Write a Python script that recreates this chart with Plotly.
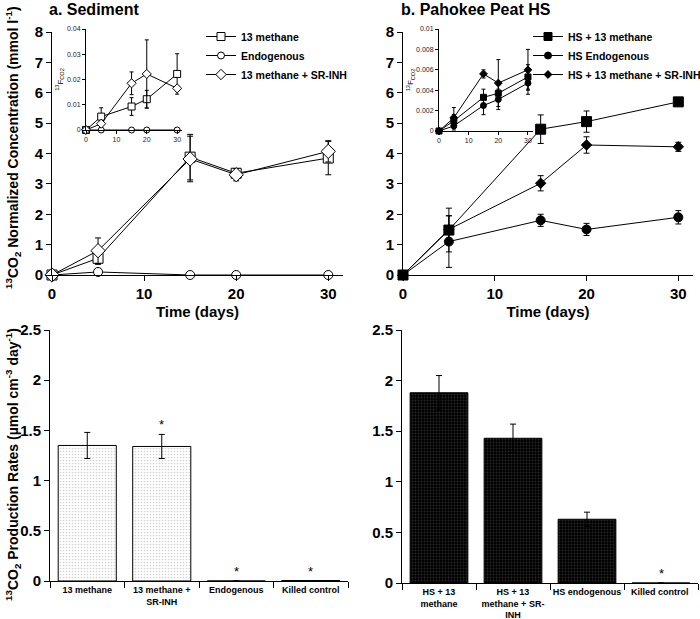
import plotly.graph_objects as go

FONT = "Liberation Sans, Arial, sans-serif"

# ---------------- data ----------------
days = [0, 5, 15, 20, 30]

# Panel a: sediment, main (mmol/l)
a_meth = [0, 0.55, 3.88, 3.35, 3.85]
a_meth_err = [0, 0.2, 0.75, 0.15, 0.55]
a_endo = [0, 0.1, 0, 0, 0]
a_endo_err = [0, 0, 0, 0, 0]
a_inh = [0, 0.8, 3.82, 3.3, 4.07]
a_inh_err = [0, 0.42, 0.75, 0.2, 0.35]

# Panel a inset (13F_CO2)
ai_meth = [0, 0.0053, 0.0093, 0.0122, 0.0222]
ai_meth_err = [0, 0.0035, 0.0035, 0.0035, 0.008]
ai_endo = [0, 0, 0, 0, 0]
ai_inh = [0, 0.0025, 0.0185, 0.0222, 0.0165]
ai_inh_err = [0, 0, 0.0045, 0.0135, 0.001]

# Panel b: Pahokee Peat HS, main
b_meth = [0, 1.48, 4.8, 5.05, 5.7]
b_meth_err = [0, 0.72, 0.47, 0.35, 0.12]
b_endo = [0, 1.1, 1.8, 1.5, 1.9]
b_endo_err = [0, 0.85, 0.2, 0.2, 0.22]
b_inh = [0, 1.5, 3.02, 4.28, 4.22]
b_inh_err = [0, 0.45, 0.25, 0.27, 0.15]

# Panel b inset
bi_meth = [0, 0.001, 0.0033, 0.0037, 0.0053]
bi_meth_err = [0, 0.0006, 0.0008, 0.0008, 0.0012]
bi_endo = [0, 0.0005, 0.0025, 0.0031, 0.0047]
bi_endo_err = [0, 0.0004, 0.0009, 0.001, 0.0011]
bi_inh = [0, 0.0013, 0.0056, 0.0047, 0.006]
bi_inh_err = [0, 0.001, 0.0004, 0.0023, 0.002]

# Bars
a_cats = ["13 methane", "13 methane +<br>SR-INH", "Endogenous", "Killed control"]
a_rates = [1.35, 1.34, 0, 0.005]
a_rates_err = [0.13, 0.12, 0, 0]
a_star = [False, True, True, True]

b_cats = ["HS + 13<br>methane", "HS + 13<br>methane + SR-<br>INH", "HS endogenous", "Killed control "]
b_rates = [1.88, 1.43, 0.63, 0]
b_rates_err = [0.17, 0.14, 0.07, 0]
b_star = [False, False, False, True]

W, H = 700, 619
def fx(px):  # screen px -> paper fraction
    return px / W
def fy(py):
    return 1 - py / H

fig = go.Figure()

def err(vals, w=3):
    return dict(type="data", array=vals, visible=True, color="black", thickness=1, width=w)

def line_trace(x, y, e, name, symbol, fill, size, xa, ya, ew=3):
    return go.Scatter(
        x=x, y=y, name=name, mode="lines+markers",
        line=dict(color="black", width=1),
        marker=dict(symbol=symbol, size=size, color=fill, line=dict(color="black", width=1)),
        error_y=err(e, ew), xaxis=xa, yaxis=ya,
        showlegend=False, cliponaxis=False,
    )

def legend_entry(name, symbol, fill, size, xa, ya, legend):
    return go.Scatter(
        x=[None], y=[None], name=name, mode="lines+markers",
        line=dict(color="black", width=1),
        marker=dict(symbol=symbol, size=size, color=fill, line=dict(color="black", width=1)),
        xaxis=xa, yaxis=ya, legend=legend, showlegend=True,
    )

W_ = "white"
K_ = "black"
# Panel a main
fig.add_trace(line_trace(days, a_meth, a_meth_err, "13 methane", "square", W_, 10, "x", "y"))
fig.add_trace(line_trace(days, a_endo, a_endo_err, "Endogenous", "circle", W_, 9, "x", "y"))
fig.add_trace(line_trace(days, a_inh, a_inh_err, "13 methane + SR-INH", "diamond", W_, 11, "x", "y"))
fig.add_trace(legend_entry("13 methane", "square", W_, 8, "x", "y", "legend"))
fig.add_trace(legend_entry("Endogenous", "circle", W_, 7, "x", "y", "legend"))
fig.add_trace(legend_entry("13 methane + SR-INH", "diamond", W_, 8, "x", "y", "legend"))

# Panel b main
fig.add_trace(line_trace(days, b_meth, b_meth_err, "HS + 13 methane", "square", K_, 10, "x2", "y2"))
fig.add_trace(line_trace(days, b_endo, b_endo_err, "HS Endogenous", "circle", K_, 9, "x2", "y2"))
fig.add_trace(line_trace(days, b_inh, b_inh_err, "HS + 13 methane + SR-INH", "diamond", K_, 8, "x2", "y2"))
fig.add_trace(legend_entry("HS + 13 methane", "square", K_, 8, "x2", "y2", "legend2"))
fig.add_trace(legend_entry("HS Endogenous", "circle", K_, 7, "x2", "y2", "legend2"))
fig.add_trace(legend_entry("HS + 13 methane + SR-INH", "diamond", K_, 6, "x2", "y2", "legend2"))

# Insets
fig.add_trace(line_trace(days, ai_meth, ai_meth_err, "a13", "square", W_, 7, "x3", "y3", 2))
fig.add_trace(line_trace(days, ai_endo, [0]*5, "aE", "circle", W_, 6, "x3", "y3", 2))
fig.add_trace(line_trace(days, ai_inh, ai_inh_err, "aI", "diamond", W_, 7, "x3", "y3", 2))
fig.add_trace(line_trace(days, bi_meth, bi_meth_err, "b13", "square", K_, 6, "x4", "y4", 2))
fig.add_trace(line_trace(days, bi_endo, bi_endo_err, "bE", "circle", K_, 6, "x4", "y4", 2))
fig.add_trace(line_trace(days, bi_inh, bi_inh_err, "bI", "diamond", K_, 6, "x4", "y4", 2))

# Bars
fig.add_trace(go.Bar(
    x=a_cats, y=a_rates, width=0.78, xaxis="x5", yaxis="y5", showlegend=False,
    marker=dict(color="white", line=dict(color="black", width=1),
                pattern=dict(shape=".", fgcolor="#a8a8a8", bgcolor="white", size=3, solidity=0.25)),
    error_y=err(a_rates_err, 3),
))
fig.add_trace(go.Bar(
    x=b_cats, y=b_rates, width=0.78, xaxis="x6", yaxis="y6", showlegend=False,
    marker=dict(color="black", line=dict(color="black", width=1),
                pattern=dict(shape=".", fgcolor="#505050", bgcolor="black", size=3, solidity=0.3)),
    error_y=err(b_rates_err, 3),
))

# asterisks
for cats, rates, errs, stars, xa, ya in [(a_cats, a_rates, a_rates_err, a_star, "x5", "y5"),
                                         (b_cats, b_rates, b_rates_err, b_star, "x6", "y6")]:
    for c, r, e, s in zip(cats, rates, errs, stars):
        if s:
            fig.add_annotation(x=c, y=r + e, xref=xa, yref=ya, text="*", showarrow=False,
                               yanchor="bottom", yshift=0, font=dict(size=13, color="black", family=FONT))

axis_common = dict(showline=True, linecolor="black", linewidth=1, showgrid=False, zeroline=False,
                   ticks="outside", tickcolor="black", ticklen=5, automargin=False,
                   tickfont=dict(size=15, color="black", family=FONT, weight="bold"))
inset_common = dict(showline=True, linecolor="black", linewidth=1, showgrid=False, zeroline=False,
                    ticks="outside", tickcolor="black", ticklen=3, automargin=False,
                    tickfont=dict(size=7, color="#222", family=FONT))
bar_x_common = dict(range=[-0.5, 3.5], type="category", tickangle=0, automargin=False,
                    showline=True, linecolor="black", showgrid=False, ticks="outside", tickson="boundaries",
                    tickcolor="black", ticklen=6,
                    tickfont=dict(size=9, color="black", family=FONT, weight="bold"))

time_title = dict(text="Time (days)", font=dict(size=15, family=FONT, color="black", weight="bold"), standoff=5)
leg_font = dict(size=10.5, family=FONT, color="black", weight="bold")

fig.update_layout(
    width=W, height=H, margin=dict(l=0, r=0, t=0, b=0, autoexpand=False),
    paper_bgcolor="white", plot_bgcolor="rgba(0,0,0,0)",
    font=dict(family=FONT, color="black"),
    xaxis=dict(domain=[fx(52), fx(343)], range=[0, 31.6], tickvals=[0, 10, 20, 30], title=time_title,
               anchor="y", **axis_common),
    yaxis=dict(domain=[fy(275), fy(32)], range=[0, 8], dtick=1, anchor="x", **axis_common),
    xaxis2=dict(domain=[fx(403), fx(693)], range=[0, 31.6], tickvals=[0, 10, 20, 30], title=time_title,
                anchor="y2", **axis_common),
    yaxis2=dict(domain=[fy(275), fy(32)], range=[0, 8], dtick=1, anchor="x2", **axis_common),
    xaxis3=dict(domain=[fx(86), fx(182)], range=[0, 31.6], tickvals=[0, 10, 20, 30], anchor="y3", **inset_common),
    yaxis3=dict(domain=[fy(130), fy(29)], range=[0, 0.04], dtick=0.01, anchor="x3",
                title=dict(text="<sup>13</sup>F<sub>CO2</sub>", font=dict(size=8, family=FONT), standoff=2),
                **inset_common),
    xaxis4=dict(domain=[fx(439), fx(533)], range=[0, 31.7], tickvals=[0, 10, 20, 30], anchor="y4", **inset_common),
    yaxis4=dict(domain=[fy(131), fy(29)], range=[0, 0.01], dtick=0.002, anchor="x4",
                title=dict(text="<sup>13</sup>F<sub>CO2</sub>", font=dict(size=8, family=FONT), standoff=0),
                **inset_common),
    xaxis5=dict(domain=[fx(50), fx(348)], anchor="y5", **bar_x_common),
    yaxis5=dict(domain=[fy(581), fy(330)], range=[0, 2.5], dtick=0.5, anchor="x5", **axis_common),
    xaxis6=dict(domain=[fx(402), fx(698)], anchor="y6", **bar_x_common),
    yaxis6=dict(domain=[fy(583), fy(330)], range=[0, 2.5], dtick=0.5, anchor="x6", **axis_common),
    legend=dict(x=fx(201), y=fy(22), xanchor="left", yanchor="top", bgcolor="rgba(0,0,0,0)",
                font=leg_font, tracegroupgap=0, itemwidth=30),
    legend2=dict(x=fx(528), y=fy(22), xanchor="left", yanchor="top", bgcolor="rgba(0,0,0,0)",
                 font=leg_font, tracegroupgap=0, itemwidth=30),
    bargap=0.22,
)

# titles and y-axis titles
fig.add_annotation(x=fx(47), y=fy(9), xref="paper", yref="paper", xanchor="left", yanchor="middle",
                   text="<b>a. Sediment</b>", showarrow=False, font=dict(size=16, family=FONT, color="black"))
fig.add_annotation(x=fx(399), y=fy(9), xref="paper", yref="paper", xanchor="left", yanchor="middle",
                   text="<b>b. Pahokee Peat HS</b>", showarrow=False, font=dict(size=16, family=FONT, color="black"))
fig.add_annotation(x=fx(13), y=fy(148), xref="paper", yref="paper", textangle=-90,
                   xanchor="center", yanchor="middle",
                   text="<b><sup>13</sup>CO<sub>2</sub> Normalized Concentration (mmol l<sup>-1</sup>)</b>",
                   showarrow=False, font=dict(size=14, family=FONT, color="black"))
fig.add_annotation(x=fx(13), y=fy(465), xref="paper", yref="paper", textangle=-90,
                   xanchor="center", yanchor="middle",
                   text="<b><sup>13</sup>CO<sub>2</sub> Production Rates (µmol cm<sup>-3</sup> day<sup>-1</sup>)</b>",
                   showarrow=False, font=dict(size=14, family=FONT, color="black"))

# remove the default 8px page margin so the 700x619 figure fills the window exactly
fig.write_html("out.html", config={"displayModeBar": False},
               post_script="document.body.style.margin='0px';")
